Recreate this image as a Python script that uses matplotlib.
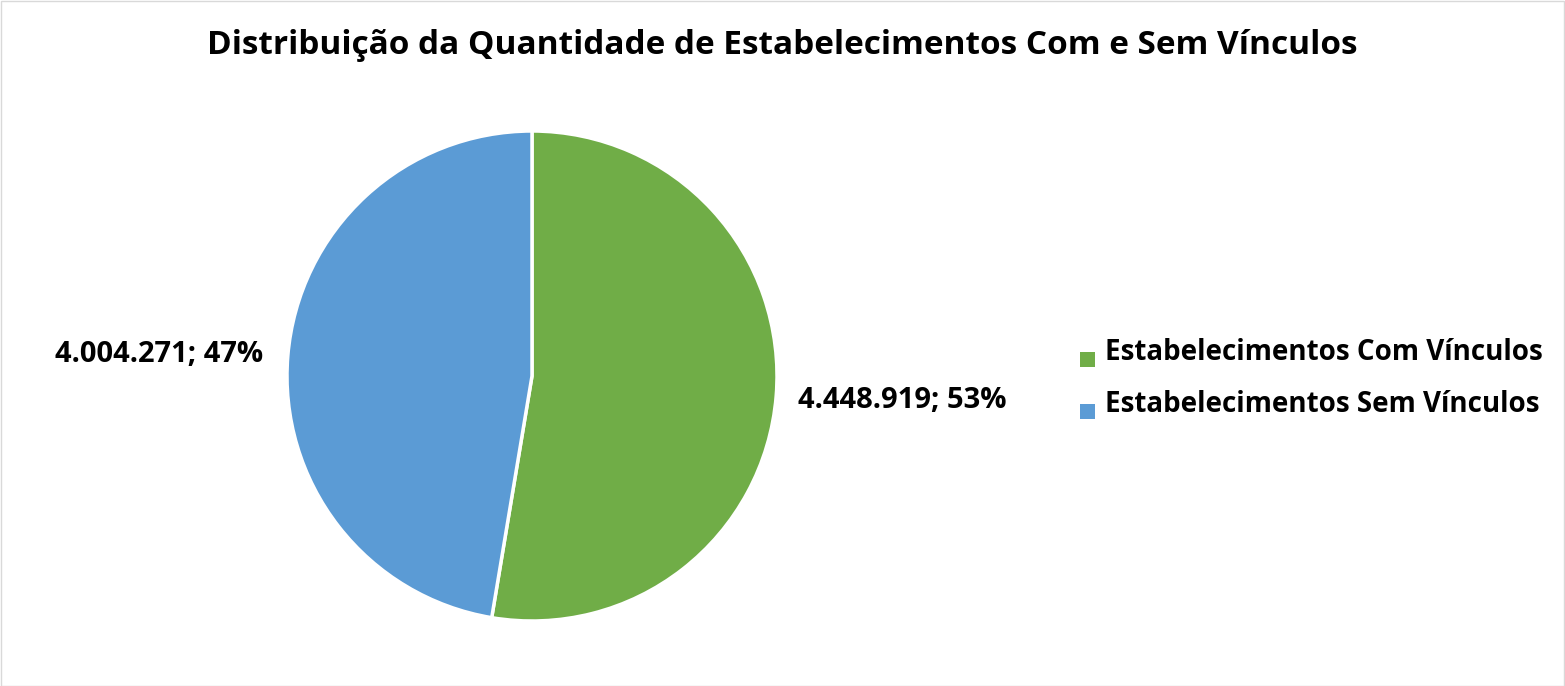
import matplotlib
matplotlib.use("Agg")
import matplotlib.pyplot as plt
from matplotlib.patches import Rectangle

categories = ["Estabelecimentos Com Vínculos", "Estabelecimentos Sem Vínculos"]
values = [4448919, 4004271]
value_labels = ["4.448.919", "4.004.271"]
colors = ["#70AD47", "#5B9BD5"]
title = "Distribuição da Quantidade de Estabelecimentos Com e Sem Vínculos"

W, H = 1565, 686
fig = plt.figure(figsize=(W / 100, H / 100), dpi=100)
ax = fig.add_axes([0, 0, 1, 1])


def Y(py):
    return H - py


font = "Open Sans"
total = sum(values)
ax.pie(values, colors=colors, startangle=90, counterclock=False,
       center=(532, Y(376)), radius=245,
       wedgeprops=dict(edgecolor="white", linewidth=2.5))
ax.set_xlim(0, W)
ax.set_ylim(0, H)
ax.set_aspect("equal")
ax.axis("off")

ax.text(782, Y(45), title, ha="center", va="center", fontsize=24, fontweight="bold",
        family=font, color="black")

pcts = [round(v / total * 100) for v in values]
ax.text(798, Y(401), f"{value_labels[0]}; {pcts[0]}%", ha="left", va="center",
        fontsize=21, fontweight="bold", family=font)
ax.text(263, Y(355), f"{value_labels[1]}; {pcts[1]}%", ha="right", va="center",
        fontsize=21, fontweight="bold", family=font)

for i, (lab, c) in enumerate(zip(categories, colors)):
    y = 352 + i * 52
    ax.add_patch(Rectangle((1080, Y(y + 7.5) - 7.5 + 7.5 - 7.5), 15, 15,
                           facecolor=c, edgecolor="none"))
    ax.text(1105, Y(y), lab, ha="left", va="center", fontsize=20, fontweight="bold",
            family=font)

fig.add_artist(Rectangle((0.5 / W, 0.5 / H), 1 - 1.5 / W, 1 - 1.5 / H,
                         transform=fig.transFigure, fill=False,
                         edgecolor="#D9D9D9", linewidth=1))
fig.savefig("out.png", dpi=100)
